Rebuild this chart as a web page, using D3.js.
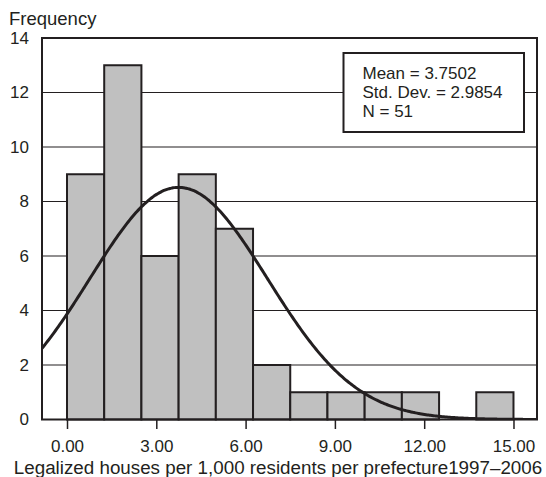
<!DOCTYPE html>
<html>
<head>
<meta charset="utf-8">
<script src="https://cdn.jsdelivr.net/npm/d3@7"></script>
<style>
  body { margin: 0; background: #fff; }
  text { font-family: "Liberation Sans", Arial, sans-serif; fill: #231f20; }
</style>
</head>
<body>
<svg id="chart" width="546" height="477"></svg>
<script>
// histogram bins (lower edges) and counts
var binStarts = [0, 1.25, 2.5, 3.75, 5, 6.25, 7.5, 8.75, 10, 11.25, 12.5, 13.75];
var binWidth = 1.25;
var counts = [9, 13, 6, 9, 7, 2, 1, 1, 1, 1, 0, 1];
var xTicks = [0, 3, 6, 9, 12, 15];
var yTicks = [0, 2, 4, 6, 8, 10, 12, 14];
var stats = ['Mean = 3.7502', 'Std. Dev. = 2.9854', 'N = 51'];
var mean = 3.7502, sd = 2.9854, n = 51;

var ink = '#231f20';
var svg = d3.select('#chart');

var pLeft = 42, pRight = 537, pTop = 38, pBottom = 419.5;

var x = d3.scaleLinear().domain([-0.84, 15.79]).range([pLeft, pRight]);
var y = d3.scaleLinear().domain([0, 14]).range([pBottom, pTop]);

/* gridlines */
svg.append('g').selectAll('line')
  .data(yTicks.filter(function(d) { return d > 0 && d < 14; }))
  .enter().append('line')
  .attr('x1', pLeft).attr('x2', pRight)
  .attr('y1', function(d) { return y(d); })
  .attr('y2', function(d) { return y(d); })
  .style('stroke', ink).style('stroke-width', 1.2);

/* bars */
svg.append('g').selectAll('rect')
  .data(counts.map(function(c, i) { return {x0: binStarts[i], c: c}; }).filter(function(d) { return d.c > 0; }))
  .enter().append('rect')
  .attr('x', function(d) { return x(d.x0); })
  .attr('width', function(d) { return x(d.x0 + binWidth) - x(d.x0); })
  .attr('y', function(d) { return y(d.c); })
  .attr('height', function(d) { return y(0) - y(d.c); })
  .style('fill', '#c0c0c0')
  .style('stroke', ink).style('stroke-width', 2);

/* normal curve from the stated mean / sd */
svg.append('clipPath').attr('id', 'clip').append('rect')
  .attr('x', pLeft).attr('y', pTop).attr('width', pRight - pLeft).attr('height', pBottom - pTop);

var xs = d3.range(-0.84, 15.8, 0.05);
var line = d3.line()
  .x(function(d) { return x(d); })
  .y(function(d) {
    var z = (d - mean) / sd;
    return y(n * binWidth * Math.exp(-0.5 * z * z) / (sd * Math.sqrt(2 * Math.PI)));
  })
  .curve(d3.curveBasis);

svg.append('path')
  .datum(xs)
  .attr('clip-path', 'url(#clip)')
  .attr('d', line)
  .style('fill', 'none')
  .style('stroke', ink).style('stroke-width', 3);

/* frame */
svg.append('rect')
  .attr('x', pLeft).attr('y', pTop)
  .attr('width', pRight - pLeft).attr('height', pBottom - pTop)
  .style('fill', 'none').style('stroke', ink).style('stroke-width', 2);

/* y labels */
svg.append('g').selectAll('text')
  .data(yTicks).enter().append('text')
  .attr('x', 29)
  .attr('y', function(d) { return y(d); })
  .attr('dy', '0.35em')
  .attr('text-anchor', 'end')
  .style('font-size', '17px')
  .text(function(d) { return d; });

svg.append('text')
  .attr('x', 9).attr('y', 25)
  .style('font-size', '18.5px')
  .text('Frequency');

/* x axis */
var xAxis = svg.append('g')
  .attr('transform', 'translate(0,' + pBottom + ')')
  .call(d3.axisBottom(x).tickValues(xTicks).tickSize(9.5).tickSizeOuter(0).tickFormat(d3.format('.2f')));
xAxis.select('.domain').remove();
xAxis.selectAll('line').style('stroke', ink).style('stroke-width', 1.5);
xAxis.selectAll('text')
  .attr('y', 20.5)
  .style('font-size', '17px')
  .style('font-family', '"Liberation Sans", Arial, sans-serif')
  .style('fill', ink);

svg.append('text')
  .attr('x', 278).attr('y', 474)
  .attr('text-anchor', 'middle')
  .style('font-size', '18.8px')
  .text('Legalized houses per 1,000 residents per prefecture1997\u20132006');

/* stats box */
svg.append('rect')
  .attr('x', 343.5).attr('y', 53)
  .attr('width', 180.5).attr('height', 79)
  .style('fill', '#fff')
  .style('stroke', ink).style('stroke-width', 2);

svg.append('g').selectAll('text')
  .data(stats).enter().append('text')
  .attr('x', 362.5)
  .attr('y', function(d, i) { return 79 + i * 19.2; })
  .style('font-size', '17px')
  .text(function(d) { return d; });
</script>
</body>
</html>
